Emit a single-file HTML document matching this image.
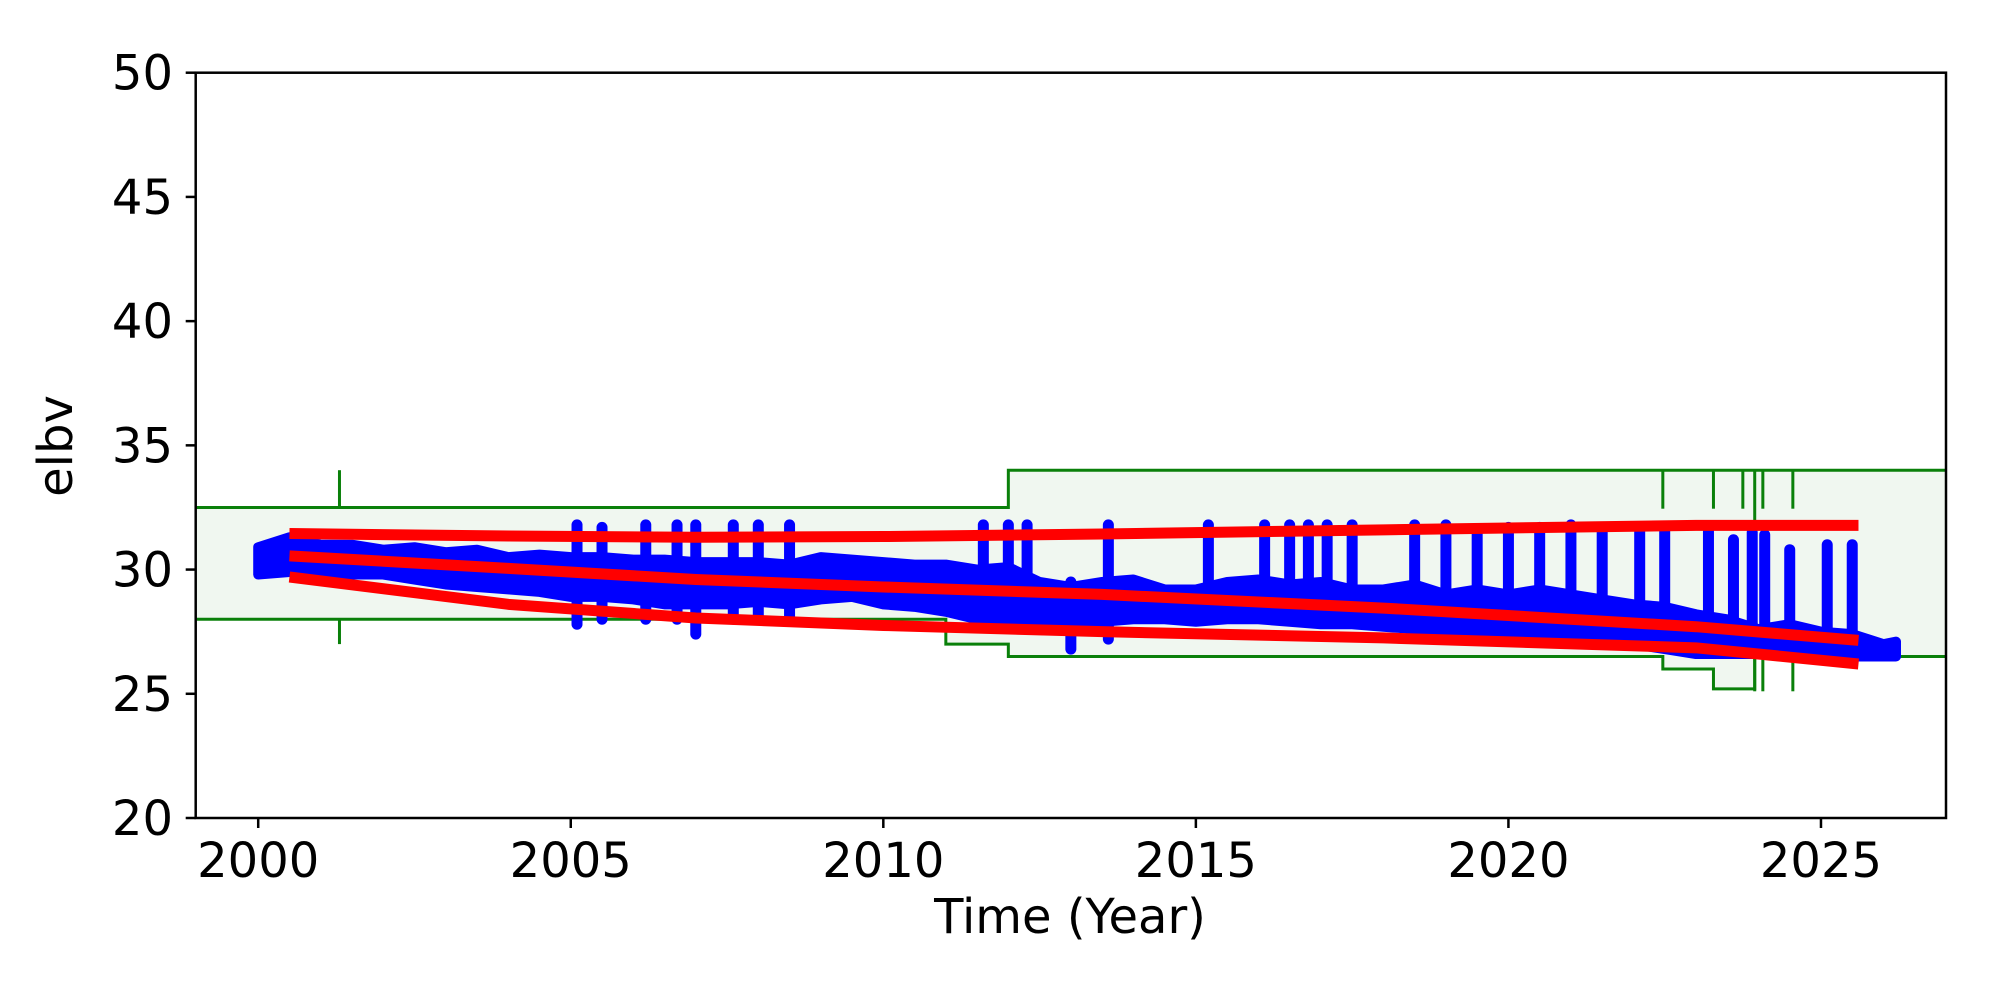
<!DOCTYPE html>
<html><head><meta charset="utf-8"><style>
html,body{margin:0;padding:0;background:#fff;}
svg text{font-family:"DejaVu Sans","Liberation Sans",sans-serif;fill:#000;}
</style></head><body>
<svg id="chart" width="2000" height="1000" viewBox="0 0 2000 1000" xmlns="http://www.w3.org/2000/svg">
<rect width="2000" height="1000" fill="#fff"/>
<g id="plot"></g>
<text x="1070" y="933" font-size="48" text-anchor="middle">Time (Year)</text>
<text transform="translate(72,446) rotate(-90)" font-size="48" text-anchor="middle">elbv</text>
</svg>
<script>
const xTicks=[2000,2005,2010,2015,2020,2025];
const yTicks=[20,25,30,35,40,45,50];
// envelope limits (step)
const envYears=[1999,2011,2012,2022.47,2023.28,2023.94,2027];
const envUpper=[32.5,32.5,34,34,34,34,34];
const envLower=[28,27,26.5,26,25.2,26.5,26.5];
// marker ticks: year, low, high
const markYears=[2001.3,2001.3,2022.47,2023.28,2023.75,2023.94,2024.07,2024.55,2023.94,2024.07,2024.55];
const markLow=[32.5,27,32.45,32.45,32.45,30.0,32.45,32.45,25.1,25.1,25.1];
const markHigh=[34,28,34,34,34,34,34,34,26.5,26.5,26.5];
// data band
const bandYears=[2000,2000.5,2001,2001.5,2002,2002.5,2003,2003.5,2004,2004.5,2005,2005.5,2006,2006.5,2007,2007.5,2008,2008.5,2009,2009.5,2010,2010.5,2011,2011.5,2012,2012.5,2013,2013.5,2014,2014.5,2015,2015.5,2016,2016.5,2017,2017.5,2018,2018.5,2019,2019.5,2020,2020.5,2021,2021.5,2022,2022.5,2023,2023.5,2024,2024.5,2025,2025.5,2026,2026.2];
const bandLow=[29.8,29.9,29.9,29.8,29.8,29.6,29.4,29.3,29.2,29.1,28.9,28.9,28.8,28.6,28.6,28.6,28.7,28.6,28.8,28.9,28.6,28.5,28.3,28.0,28.0,27.8,27.8,27.9,28.0,28.0,27.9,28.0,28.0,27.9,27.8,27.8,27.7,27.6,27.5,27.5,27.4,27.3,27.2,27.1,27.0,26.8,26.6,26.6,26.6,26.6,26.6,26.5,26.5,26.5];
const bandHigh=[30.9,31.3,31.0,31.0,30.8,30.9,30.7,30.8,30.5,30.6,30.5,30.5,30.4,30.4,30.3,30.3,30.3,30.2,30.5,30.4,30.3,30.2,30.2,30.0,30.1,29.5,29.3,29.5,29.6,29.2,29.2,29.5,29.6,29.4,29.5,29.2,29.2,29.4,29.0,29.2,29.0,29.2,29.0,28.8,28.6,28.5,28.2,28.0,27.6,27.8,27.5,27.4,27.0,27.1];
const spikeYears=[2005.1,2005.5,2006.2,2006.7,2007.0,2007.6,2008.0,2008.5,2011.6,2012.0,2012.3,2013.0,2013.6,2015.2,2016.1,2016.5,2016.8,2017.1,2017.5,2018.5,2019.0,2019.5,2020.0,2020.5,2021.0,2021.5,2022.1,2022.5,2023.2,2023.6,2023.9,2024.1,2024.5,2025.1,2025.5];
const spikeLow=[27.8,28.0,28.0,28.0,27.4,28.0,28.0,28.0,28.5,28.0,28.0,26.8,27.2,28.3,28.2,28.2,28.2,28.2,28.2,27.8,28.0,28.0,28.0,28.0,28.0,27.8,27.5,27.0,27.0,26.8,26.8,26.8,27.0,27.0,26.8];
const spikeHigh=[31.8,31.7,31.8,31.8,31.8,31.8,31.8,31.8,31.8,31.8,31.8,29.5,31.8,31.8,31.8,31.8,31.8,31.8,31.8,31.8,31.8,31.6,31.7,31.7,31.8,31.7,31.7,31.7,31.7,31.2,31.5,31.4,30.8,31.0,31.0];
// fit lines
const fitYears=[2000.5,2004,2007,2010,2013.5,2018,2023,2025.6];
const fitUpper=[31.45,31.35,31.3,31.33,31.43,31.6,31.78,31.78];
const fitMid=[30.55,30.05,29.6,29.3,29.0,28.45,27.7,27.15];
const fitLower=[29.7,28.6,28.05,27.75,27.5,27.25,26.85,26.2];

const L=195.7,R=1946,T=72.7,B=818;
const X0=1999,X1=2027,Y0=20,Y1=50;
const sx=v=>L+(v-X0)/(X1-X0)*(R-L);
const sy=v=>B-(v-Y0)/(Y1-Y0)*(B-T);
const NS='http://www.w3.org/2000/svg';
const plot=document.getElementById('plot');
const svg=document.getElementById('chart');
function mk(tag,attrs,parent){const e=document.createElementNS(NS,tag);for(const k in attrs)e.setAttribute(k,attrs[k]);(parent||plot).appendChild(e);return e;}

let up='',lo='';
for(let i=0;i<envYears.length-1;i++){
  up+=`${sx(envYears[i])},${sy(envUpper[i])} ${sx(envYears[i+1])},${sy(envUpper[i])} `;
  lo+=`${sx(envYears[i])},${sy(envLower[i])} ${sx(envYears[i+1])},${sy(envLower[i])} `;
}
const loRev=lo.trim().split(' ').reverse().join(' ');
const envFill=mk('polygon',{points:up+loRev,fill:'#f0f7f0',stroke:'none'});


const envUp=mk('polyline',{points:up,fill:'none',stroke:'#0a800a','stroke-width':3});


const envLo=mk('polyline',{points:lo,fill:'none',stroke:'#0a800a','stroke-width':3});


for(let i=0;i<markYears.length;i++){
  const m=mk('line',{x1:sx(markYears[i]),x2:sx(markYears[i]),y1:sy(markLow[i]),y2:sy(markHigh[i]),stroke:'#0a800a','stroke-width':3});
  
  
}
let pts=bandYears.map((y,i)=>`${sx(y)},${sy(bandHigh[i])}`);
let pts2=bandYears.map((y,i)=>`${sx(y)},${sy(bandLow[i])}`).reverse();
const band=mk('polygon',{points:pts.concat(pts2).join(' '),fill:'#0000ff',stroke:'#0000ff','stroke-width':10,'stroke-linejoin':'round'});


for(let i=0;i<spikeYears.length;i++){
  const s=mk('line',{x1:sx(spikeYears[i]),x2:sx(spikeYears[i]),y1:sy(spikeLow[i]),y2:sy(spikeHigh[i]),stroke:'#0000ff','stroke-width':11,'stroke-linecap':'round'});
  
  
}
[[fitUpper,'upper-fit-line'],[fitMid,'trend-fit-line'],[fitLower,'lower-fit-line']].forEach(([arr,name])=>{
  const p=mk('polyline',{points:fitYears.map((y,i)=>`${sx(y)},${sy(arr[i])}`).join(' '),fill:'none',stroke:'#ff0000','stroke-width':11,'stroke-linejoin':'round'});
  
  
});
const fr=mk('rect',{x:L,y:T,width:R-L,height:B-T,fill:'none',stroke:'#000','stroke-width':2.5},svg);


xTicks.forEach(v=>{
  const t=mk('line',{x1:sx(v),x2:sx(v),y1:B,y2:B+10,stroke:'#000','stroke-width':2.5},svg);
  
  
  const tx=mk('text',{x:sx(v),y:877,'font-size':48,'text-anchor':'middle'},svg);
  tx.textContent=v;
  
  
});
yTicks.forEach(v=>{
  const t=mk('line',{x1:L-10,x2:L,y1:sy(v),y2:sy(v),stroke:'#000','stroke-width':2.5},svg);
  
  
  const tx=mk('text',{x:173,y:sy(v)+17,'font-size':48,'text-anchor':'end'},svg);
  tx.textContent=v;
  
  
});
</script>
</body></html>
